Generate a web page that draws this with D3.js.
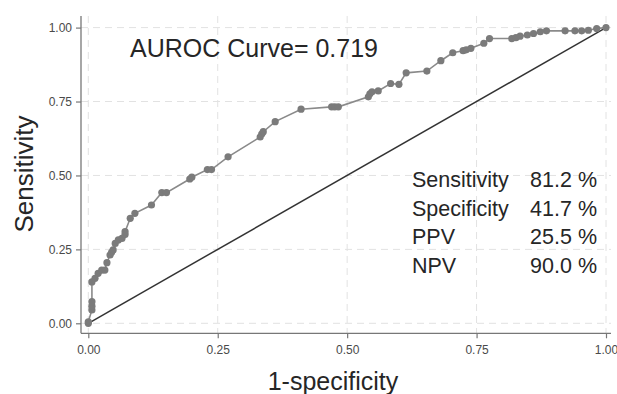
<!DOCTYPE html>
<html>
<head>
<meta charset="utf-8">
<script src="https://cdn.jsdelivr.net/npm/d3@7"></script>
<style>
  html, body { margin: 0; padding: 0; background: #fff; }
  svg { display: block; font-family: "Liberation Sans", Arial, sans-serif; }
</style>
</head>
<body>
<svg id="chart" width="617" height="394"></svg>
<script>
// ROC curve points (1-specificity, sensitivity)
const fpr = [0, 0, 0.007, 0.007, 0.007, 0.007, 0.013, 0.019, 0.026, 0.032, 0.036, 0.042, 0.045, 0.048, 0.052, 0.058, 0.065, 0.071, 0.071, 0.081, 0.09, 0.122, 0.142, 0.151, 0.196, 0.2, 0.23, 0.238, 0.27, 0.332, 0.335, 0.338, 0.361, 0.411, 0.47, 0.476, 0.483, 0.541, 0.544, 0.548, 0.56, 0.584, 0.6, 0.614, 0.654, 0.681, 0.704, 0.724, 0.73, 0.739, 0.764, 0.775, 0.818, 0.826, 0.834, 0.848, 0.86, 0.873, 0.885, 0.921, 0.94, 0.953, 0.966, 0.982, 1];
const tpr = [0, 0.005, 0.045, 0.058, 0.073, 0.14, 0.152, 0.169, 0.18, 0.18, 0.205, 0.231, 0.24, 0.248, 0.27, 0.282, 0.287, 0.3, 0.31, 0.355, 0.372, 0.4, 0.442, 0.442, 0.488, 0.494, 0.52, 0.52, 0.563, 0.63, 0.64, 0.648, 0.682, 0.724, 0.732, 0.732, 0.732, 0.766, 0.776, 0.783, 0.786, 0.811, 0.808, 0.847, 0.853, 0.888, 0.915, 0.922, 0.925, 0.93, 0.947, 0.963, 0.963, 0.966, 0.971, 0.975, 0.98, 0.986, 0.989, 0.989, 0.989, 0.989, 0.991, 0.997, 1];
const tickValues = [0, 0.25, 0.5, 0.75, 1];
const statLabels = ["Sensitivity", "Specificity", "PPV", "NPV"];
const statValues = ["81.2 %", "41.7 %", "25.5 %", "90.0 %"];
const aurocText = "AUROC Curve= 0.719";
const xTitle = "1-specificity";
const yTitle = "Sensitivity";

const svg = d3.select("#chart");
const x = d3.scaleLinear().domain([0, 1]).range([88.3, 606]);
const y = d3.scaleLinear().domain([0, 1]).range([323.3, 27.6]);
const axisLeftX = 81, axisBottomY = 333.3;

// grid
const grid = svg.append("g");
grid.selectAll("line.h").data(tickValues).join("line")
  .attr("x1", axisLeftX).attr("x2", 611)
  .attr("y1", d => y(d)).attr("y2", d => y(d))
  .attr("stroke", "#e2e2e2").attr("stroke-width", 1).attr("stroke-dasharray", "7,5");
grid.selectAll("line.v").data(tickValues).join("line")
  .attr("x1", d => x(d)).attr("x2", d => x(d))
  .attr("y1", 16).attr("y2", axisBottomY)
  .attr("stroke", "#e2e2e2").attr("stroke-width", 1).attr("stroke-dasharray", "7,5");

// axes
const fmt = d3.format(".2f");
const xAxis = svg.append("g").attr("transform", `translate(0,${axisBottomY})`)
  .call(d3.axisBottom(x).tickValues(tickValues).tickFormat(fmt).tickSize(5).tickSizeOuter(0));
xAxis.select(".domain").attr("d", `M${axisLeftX},0H611`);
const yAxis = svg.append("g").attr("transform", `translate(${axisLeftX},0)`)
  .call(d3.axisLeft(y).tickValues(tickValues).tickFormat(fmt).tickSize(5).tickSizeOuter(0));
yAxis.select(".domain").attr("d", `M0,16V${axisBottomY}`);
svg.selectAll(".domain").attr("stroke", "#777").attr("stroke-width", 1.3);
svg.selectAll(".tick line").attr("stroke", "#777").attr("stroke-width", 1.2);
svg.selectAll(".tick text").attr("fill", "#4a4a4a").attr("font-size", 12)
  .attr("font-family", "Liberation Sans, Arial, sans-serif");
xAxis.selectAll(".tick text").attr("dy", "1.05em").attr("y", 8);
yAxis.selectAll(".tick text").attr("x", -9);

// diagonal
svg.append("line")
  .attr("x1", x(0)).attr("y1", y(0)).attr("x2", x(1)).attr("y2", y(1))
  .attr("stroke", "#333").attr("stroke-width", 1.5);

// ROC curve
const pts = fpr.map((f, i) => [f, tpr[i]]);
svg.append("path").datum(pts)
  .attr("d", d3.line().x(d => x(d[0])).y(d => y(d[1])))
  .attr("fill", "none").attr("stroke", "#8a8a8a").attr("stroke-width", 1.6);
svg.append("g").selectAll("circle").data(pts).join("circle")
  .attr("cx", d => x(d[0])).attr("cy", d => y(d[1])).attr("r", 3.6)
  .attr("fill", "#7b7b7b");

// texts
svg.append("text").attr("x", 130).attr("y", 57).attr("font-size", 25)
  .attr("fill", "#262626").text(aurocText);

const stats = svg.append("g");
statLabels.forEach((s, i) => {
  stats.append("text").attr("x", 412).attr("y", 187 + i * 28.5)
    .attr("font-size", 21.5).attr("fill", "#262626").text(s);
  stats.append("text").attr("x", 597).attr("y", 187 + i * 28.5)
    .attr("font-size", 21.5).attr("fill", "#262626").attr("text-anchor", "end").text(statValues[i]);
});

svg.append("text").attr("x", 333).attr("y", 390).attr("text-anchor", "middle")
  .attr("font-size", 25).attr("fill", "#262626").text(xTitle);
svg.append("text").attr("transform", "translate(33,174) rotate(-90)")
  .attr("text-anchor", "middle").attr("font-size", 26).attr("fill", "#262626").text(yTitle);
</script>
</body>
</html>
